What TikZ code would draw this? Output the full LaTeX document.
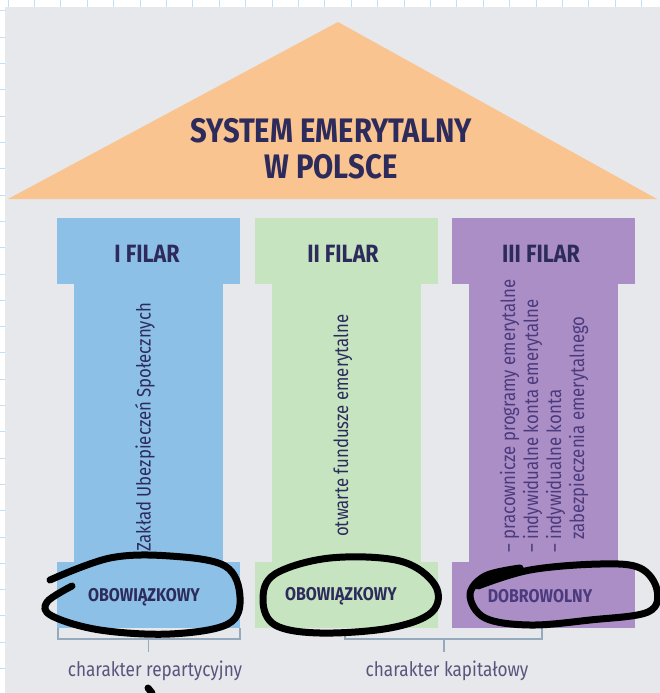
\documentclass[tikz,border=0pt]{standalone}
\usepackage{fontspec}
\setmainfont[FakeStretch=0.86]{Fira Sans}
\definecolor{bggray}{RGB}{230,232,235}
\definecolor{gridblue}{RGB}{190,224,248}
\definecolor{roof}{RGB}{249,196,143}
\definecolor{pillarA}{RGB}{141,192,230}
\definecolor{pillarB}{RGB}{198,228,192}
\definecolor{pillarC}{RGB}{171,142,197}
\definecolor{navy}{RGB}{45,43,92}
\definecolor{purpletext}{RGB}{75,58,125}
\definecolor{bracket}{RGB}{150,170,190}
\newcommand{\pillar}[2]{
  % pillar centred at x = #1: capital, shaft and base
  \filldraw[#2] (#1-91, 218) -- (#1+91, 218) -- (#1+91, 283) -- (#1+74, 283)
    -- (#1+74, 562) -- (#1+91, 562) -- (#1+91, 627) -- (#1-91, 627)
    -- (#1-91, 562) -- (#1-74, 562) -- (#1-74, 283) -- (#1-91, 283) -- cycle;
}
\tikzset{
  filar/.style={text=navy, font=\fontsize{25}{25}\selectfont\bfseries},
  duty/.style={text=navy, font=\fontsize{18.5}{18.5}\selectfont\bfseries},
  inside/.style={rotate=90, anchor=west, inner sep=0pt, font=\fontsize{19.5}{23}\selectfont},
  kind/.style={text=navy!80, font=\fontsize{20}{20}\selectfont},
  brace/.style={draw=bracket, line width=1.3pt},
  scribble/.style={black, line width=7pt, line cap=round, line join=round}
}

\begin{document}
\begin{tikzpicture}[x=1pt, y=-1pt]
\useasboundingbox (0, 0) rectangle (660, 693);

% notebook page behind the photo
\fill[white] (0, 0) rectangle (660, 693);
\foreach \i in {0,...,24}
  \draw[gridblue, line width=1pt] (8+26.4*\i, 0) -- (8+26.4*\i, 693);
\foreach \i in {0,...,26}
  \draw[gridblue, line width=1pt] (0, 11+26.3*\i) -- (660, 11+26.3*\i);
\fill[bggray] (5, 7) rectangle (660, 693);

% roof
\fill[roof] (338, 22) -- (657, 199) -- (8, 199) -- cycle;
\node[text=navy, align=center, font=\fontsize{34}{36}\selectfont\bfseries] (title) at (331, 149)
  {SYSTEM EMERYTALNY\\W POLSCE};

% pillars
\pillar{148.5}{pillarA};
\pillar{346}{pillarB};
\pillar{543.5}{pillarC};

\node[filar] (filarI) at (147, 254) {I FILAR};
\node[filar] (filarII) at (343, 254) {II FILAR};
\node[filar] (filarIII) at (541, 254) {III FILAR};

\node[inside, text=navy] (zus) at (145, 552) {Zakład Ubezpieczeń Społecznych};
\node[inside, text=navy] (ofe) at (343, 537) {otwarte fundusze emerytalne};
\node[inside, text=purpletext, align=left] (ppe) at (544, 553)
  {– pracownicze programy emerytalne\\– indywidualne konta emerytalne\\– indywidualne konta\\\hphantom{– }zabezpieczenia emerytalnego};

\node[duty] (dutyI) at (144, 597) {OBOWIĄZKOWY};
\node[duty] (dutyII) at (341, 596) {OBOWIĄZKOWY};
\node[duty, text=purpletext] (dutyIII) at (540, 596) {DOBROWOLNY};

% brackets
\node[kind] (repart) at (155, 671) {charakter repartycyjny};
\node[kind] (kapital) at (447, 671) {charakter kapitałowy};
\coordinate (braceI) at (148.5, 639);
\coordinate (braceII) at (444, 639);
\draw[brace] (58, 628) -- (58, 639) -- (240, 639) -- (240, 628);
\draw[brace] (345, 630) -- (345, 639) -- (542, 639) -- (542, 628);
\draw[brace] (braceI) -- ++(0, 13);
\draw[brace] (braceII) -- ++(0, 13);

% hand-drawn loops
\draw[scribble] plot[smooth, tension=0.6] coordinates {(50,580) (110,558) (170,556) (225,566) (240,597)
  (228,624) (170,634) (100,630) (52,616) (47,602) (72,586)};
\draw[scribble] plot[smooth cycle, tension=0.6] coordinates {(275,574) (330,558) (400,561) (435,585)
  (432,612) (390,628) (320,633) (275,625) (263,600)};
\draw[scribble] plot[smooth, tension=0.6] coordinates {(478,586) (530,570) (600,564) (640,568) (657,590)
  (648,612) (590,620) (530,625) (485,618) (470,595) (485,576) (520,568)};
\draw[scribble] (148, 688) -- (152, 693);
\end{tikzpicture}
\end{document}
